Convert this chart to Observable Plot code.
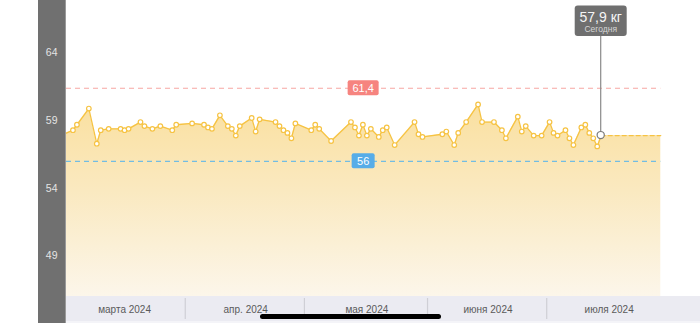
<!DOCTYPE html>
<html>
<head>
<meta charset="utf-8">
<script src="https://cdn.jsdelivr.net/npm/d3@7"></script>
<script src="https://cdn.jsdelivr.net/npm/@observablehq/plot@0.6"></script>
<style>
  html, body { margin: 0; padding: 0; background: #fff; }
  #chart { position: relative; width: 700px; height: 323px; overflow: hidden; }
  #chart svg { display: block; font-family: "Liberation Sans", Arial, sans-serif; }
  .home { position: absolute; left: 260px; top: 314px; width: 181px; height: 5px; border-radius: 3px; background: #000; }
</style>
</head>
<body>
<div id="chart"><div class="home"></div></div>
<script>
// ---- data ----
const dates = [
  "2024-02-29",
  "2024-03-03","2024-03-04","2024-03-07","2024-03-09","2024-03-10","2024-03-12","2024-03-15","2024-03-16",
  "2024-03-17","2024-03-20","2024-03-21","2024-03-23","2024-03-25","2024-03-28","2024-03-29",
  "2024-04-02","2024-04-05","2024-04-06","2024-04-07","2024-04-09","2024-04-11","2024-04-12","2024-04-13",
  "2024-04-14","2024-04-17","2024-04-18","2024-04-19","2024-04-23","2024-04-24","2024-04-25","2024-04-26",
  "2024-04-27","2024-04-28",
  "2024-05-02","2024-05-03","2024-05-04","2024-05-07","2024-05-12","2024-05-13","2024-05-14","2024-05-15",
  "2024-05-16","2024-05-17","2024-05-19","2024-05-20","2024-05-21","2024-05-23","2024-05-28","2024-05-29",
  "2024-05-30",
  "2024-06-04","2024-06-05","2024-06-07","2024-06-08","2024-06-10","2024-06-13","2024-06-14","2024-06-17",
  "2024-06-19","2024-06-20","2024-06-23","2024-06-24","2024-06-25","2024-06-27","2024-06-29",
  "2024-07-01","2024-07-02","2024-07-03","2024-07-05","2024-07-06","2024-07-07","2024-07-09","2024-07-10",
  "2024-07-11","2024-07-12","2024-07-13","2024-07-14"
];
const weights = [
  57.9,
  58.3,58.7,59.9,57.3,58.3,58.4,58.4,58.3,
  58.4,58.9,58.6,58.4,58.6,58.3,58.7,
  58.8,58.7,58.5,58.4,59.4,58.6,58.4,57.9,
  58.6,59.2,58.2,59.1,58.9,58.6,58.3,58.1,
  57.7,58.8,
  58.3,58.7,58.4,57.5,58.9,58.5,57.9,58.7,
  57.9,58.4,57.8,58.3,58.5,57.2,58.9,58.0,
  57.8,
  58.0,58.2,57.2,58.1,58.9,60.2,58.9,58.9,
  58.3,57.7,59.3,58.2,58.6,57.9,57.9,
  58.9,58.1,57.9,58.3,57.7,57.2,58.5,58.7,
  58.1,57.7,57.1,57.9
];
const todayDate = "2024-07-14";
const todayValue = 57.9;
const todayLabel = "57,9 кг";
const todaySub = "Сегодня";
const projectionEnd = "2024-07-29";
const goalHigh = 61.4, goalHighLabel = "61,4";
const goalLow = 56, goalLowLabel = "56";
const yTicks = [49, 54, 59, 64];
const monthStarts = ["2024-03-01","2024-04-01","2024-05-01","2024-06-01","2024-07-01","2024-08-01"];
const monthLabels = ["марта 2024","апр. 2024","мая 2024","июня 2024","июля 2024"];
const xDomain = ["2024-03-01T21:00:00Z","2024-08-08T12:00:00Z"];
const yDomain = [46, 67.89];

// ---- build tables ----
const day = s => new Date(s + "T12:00:00Z");
const measured = dates.map((d, i) => ({date: day(d), value: weights[i]}));
const dotsData = measured.filter(d => d.date >= new Date(xDomain[0]) && +d.date !== +day(todayDate));
const today = {date: day(todayDate), value: todayValue};
const projection = [today, {date: day(projectionEnd), value: todayValue}];
const areaData = measured.concat([projection[1]]);
const mStarts = monthStarts.map(s => new Date(s + "T00:00:00Z"));
const mMids = monthLabels.map((_, i) => new Date((+mStarts[i] + +mStarts[i + 1]) / 2));
const lineStart = new Date(xDomain[0]);
const lineEnd = day(projectionEnd);

const gold = "#f6c343";

const chart = Plot.plot({
  width: 700,
  height: 323,
  marginLeft: 66,
  marginRight: 0,
  marginTop: 0,
  marginBottom: 27,
  style: {background: "transparent", overflow: "visible", fontFamily: "Liberation Sans, Arial, sans-serif"},
  x: {type: "utc", domain: xDomain.map(s => new Date(s)), label: null},
  y: {domain: yDomain, label: null},
  marks: [
    Plot.areaY(areaData, {x: "date", y1: yDomain[0], y2: "value", fill: "url(#wgrad)", clip: true}),
    Plot.ruleY([goalHigh], {x1: lineStart, x2: lineEnd, stroke: "#f7a6a2", strokeWidth: 1.2, strokeDasharray: "5,4"}),
    Plot.ruleY([goalLow], {x1: lineStart, x2: lineEnd, stroke: "#72bde3", strokeWidth: 1.2, strokeDasharray: "5,4"}),
    Plot.lineY(measured, {x: "date", y: "value", stroke: gold, strokeWidth: 1.3, clip: true}),
    Plot.lineY(projection, {x: "date", y: "value", stroke: gold, strokeWidth: 1.2, strokeDasharray: "4,3"}),
    Plot.dot(dotsData, {x: "date", y: "value", r: 2.3, fill: "white", stroke: gold, strokeWidth: 1.2}),
    Plot.axisY(yTicks, {tickSize: 0, tickPadding: 9, fontSize: 10.5, fill: "#e4e4e4", label: null}),
    Plot.axisX(mMids, {tickSize: 0, tickPadding: 9, fontSize: 10, fill: "#5a5a5a", label: null,
      tickFormat: (d, i) => monthLabels[i]})
  ]
});

const svg = d3.select(chart);
const xs = chart.scale("x"), ys = chart.scale("y");
const X = d => xs.apply(d), Y = v => ys.apply(v);

// gradient
const defs = svg.insert("defs", ":first-child");
const g = defs.append("linearGradient").attr("id", "wgrad").attr("x1", 0).attr("y1", 0).attr("x2", 0).attr("y2", 1);
g.append("stop").attr("offset", "0%").attr("stop-color", "#fae0a0");
g.append("stop").attr("offset", "45%").attr("stop-color", "#fae9c0");
g.append("stop").attr("offset", "100%").attr("stop-color", "#fcf6ea");

// backgrounds (behind marks)
const bg = svg.insert("g", "defs + *");
const plotBottom = Y(yDomain[0]);
bg.append("rect").attr("x", 38).attr("y", 0).attr("width", 28).attr("height", 323).attr("fill", "#707070");
bg.append("rect").attr("x", 65).attr("y", 0).attr("width", 1).attr("height", 323).attr("fill", "#9a9a9a");
bg.append("rect").attr("x", 66).attr("y", plotBottom).attr("width", 634).attr("height", 25).attr("fill", "#ebebf2");
bg.append("rect").attr("x", 66).attr("y", plotBottom + 25).attr("width", 634).attr("height", 2).attr("fill", "#f4f4f8");
mStarts.slice(1, -1).forEach(d => {
  bg.append("rect").attr("x", X(d) - 1).attr("y", plotBottom + 2).attr("width", 1.2).attr("height", 21).attr("fill", "#cfcfd6");
});

// goal labels
const midX = X(new Date((+lineStart + +lineEnd) / 2));
function goalBox(v, label, color, w) {
  const gg = svg.append("g");
  gg.append("rect").attr("x", midX - w / 2).attr("y", Y(v) - 7.5).attr("width", w).attr("height", 15).attr("rx", 2).attr("fill", color);
  gg.append("text").attr("x", midX).attr("y", Y(v) + 4).attr("text-anchor", "middle").attr("fill", "white")
    .attr("font-size", 11).text(label);
}
goalBox(goalHigh, goalHighLabel, "#f6847f", 31);
goalBox(goalLow, goalLowLabel, "#57ade8", 23);

// today marker + tooltip
const tx = X(today.date), ty = Y(today.value);
const tip = svg.append("g");
tip.append("line").attr("x1", tx).attr("x2", tx).attr("y1", 36).attr("y2", ty - 3.5).attr("stroke", "#8a8a8a").attr("stroke-width", 1.2);
tip.append("circle").attr("cx", tx).attr("cy", ty).attr("r", 3.6).attr("fill", "white").attr("stroke", "#7a7a7a").attr("stroke-width", 1.2);
tip.append("rect").attr("x", tx - 26).attr("y", 5.5).attr("width", 52).attr("height", 30.5).attr("rx", 3).attr("fill", "#6f6f6f");
tip.append("text").attr("x", tx).attr("y", 22).attr("text-anchor", "middle").attr("fill", "#f5f5f5").attr("font-size", 14).text(todayLabel);
tip.append("text").attr("x", tx).attr("y", 32.3).attr("text-anchor", "middle").attr("fill", "#d6d6d6").attr("font-size", 8.5).text(todaySub);

document.getElementById("chart").prepend(chart);
</script>
</body>
</html>
